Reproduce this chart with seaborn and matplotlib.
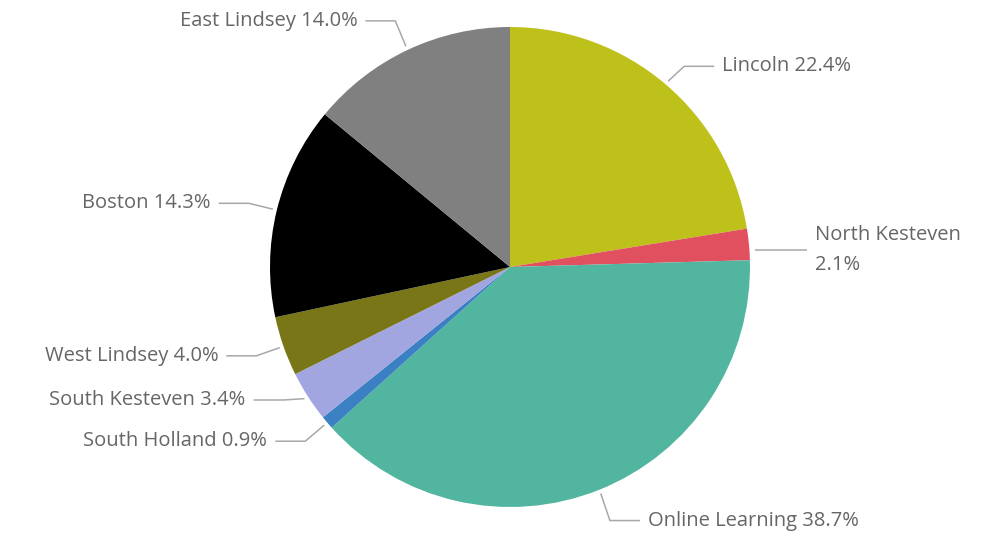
import numpy as np
import matplotlib
matplotlib.use("Agg")
import matplotlib.pyplot as plt
import seaborn as sns

# Share of learners by district
districts = ["Lincoln", "North Kesteven", "Online Learning", "South Holland",
             "South Kesteven", "West Lindsey", "Boston", "East Lindsey"]
shares = [22.4, 2.1, 38.7, 0.9, 3.4, 4.0, 14.3, 14.0]
colors = ["#BFC11B", "#E0505E", "#52B59F", "#3A80C2",
          "#A2A6E0", "#797617", "#000000", "#808080"]

# label text wrapping and small vertical nudges (pixels) to keep labels apart
label_wrap = {"North Kesteven": True}
label_nudge = {"South Kesteven": 12, "East Lindsey": 3, "Lincoln": -4,
               "Online Learning": -4}

sns.set_theme(style="white")
plt.rcParams["font.family"] = ["Open Sans", "DejaVu Sans"]

W, H = 987, 536
fig = plt.figure(figsize=(W / 100, H / 100), dpi=100)
ax = fig.add_axes([0, 0, 1, 1])

cx, cy, R = 510, H - 267, 240
wedges, _ = ax.pie(shares, colors=colors, startangle=90, counterclock=False,
                   center=(cx, cy), radius=R, frame=True,
                   wedgeprops=dict(linewidth=0))
ax.set_xlim(0, W)
ax.set_ylim(0, H)
ax.set_aspect("equal")
ax.axis("off")

text_color = "#666666"
line_color = "#A8A8A8"
for w, name, val in zip(wedges, districts, shares):
    ang = np.deg2rad((w.theta1 + w.theta2) / 2)
    ca, sa = np.cos(ang), np.sin(ang)
    x0, y0 = cx + (R + 4) * ca, cy + (R + 4) * sa
    if name in label_wrap:
        x1, y1 = cx + (R + 6) * ca, cy + (R + 6) * sa
        y1 -= 6
        x0, y0 = x1, y1
    else:
        x1, y1 = cx + 1.12 * R * ca, cy + 1.12 * R * sa
        y1 += label_nudge.get(name, 0)
    side = 1 if ca >= 0 else -1
    x2 = x1 + side * 30 if name not in label_wrap else x1 + 52
    ax.plot([x0, x1, x2], [y0, y1, y1], color=line_color, lw=1.1,
            solid_capstyle="butt")
    if name in label_wrap:
        txt, spacing = f"{name}\n{val:.1f}%", 1.65
    else:
        txt, spacing = f"{name} {val:.1f}%", 1.2
    ax.text(x2 + side * 8, y1, txt, ha="left" if side > 0 else "right",
            va="center", fontsize=14.5, color=text_color, linespacing=spacing)

fig.savefig("out.png", dpi=100, facecolor="white")
